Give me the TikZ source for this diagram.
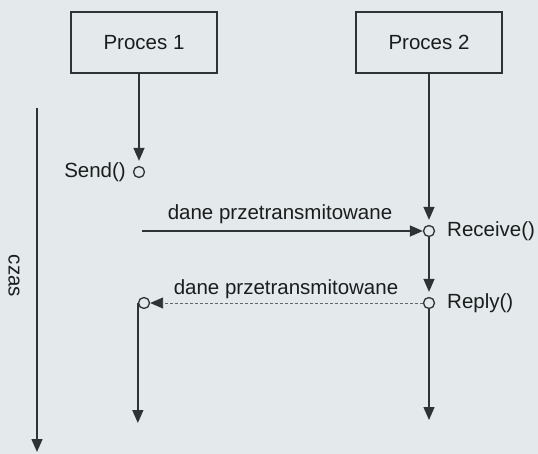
\documentclass[tikz,border=0pt]{standalone}
\usepackage{fontspec}
\setmainfont{Liberation Sans}
\usetikzlibrary{arrows.meta}
\definecolor{paper}{HTML}{E4EAEC}
\definecolor{ink}{HTML}{2E3336}
\definecolor{txt}{HTML}{1C1C1C}
\begin{document}
\begin{tikzpicture}[x=1pt,y=-1pt,
  font=\fontsize{20.5}{24}\selectfont,
  every node/.style={text=txt},
  procbox/.style={draw=ink, line width=1.6pt, minimum width=146pt, minimum height=61pt, inner sep=0pt},
  evt/.style={circle, draw=ink, line width=1.3pt, minimum size=11pt, inner sep=0pt, fill=paper},
  lbl/.style={inner sep=0pt},
  life/.style={draw=ink, line width=1.4pt},
  vtip/.style={-{Triangle[width=11pt,length=13pt,color=ink]}},
  htip/.style={-{Triangle[width=11pt,length=13pt,color=ink]}},
  msgdash/.style={draw=ink!75, line width=0.9pt, dash pattern=on 3pt off 2pt}
]
\fill[paper] (0,0) rectangle (538,454);
\useasboundingbox (0,0) rectangle (538,454);

\node[procbox] (p1) at (144,42.5) {Proces 1};
\node[procbox] (p2) at (429,42.5) {Proces 2};

\node[evt] (send) at (139,172) {};
\node[evt] (rcv) at (429,231) {};
\node[evt] (rep) at (429,303) {};
\node[evt] (ret) at (144,303) {};

\coordinate (l1top) at (p1.south -| send);
\coordinate (m1s) at (142,231);
\coordinate (l1end) at (138,423);
\coordinate (l2end) at (429,420);
\coordinate (ttop) at (37,108);
\coordinate (tend) at (37,452);

\draw[life, vtip] (l1top) -- ([yshift=5pt]send.north);
\draw[life, vtip] (p2.south) -- ([yshift=5pt]rcv.north);
\draw[life, htip] (m1s) -- (rcv.west);
\draw[life, vtip] (rcv.south) -- ([yshift=5pt]rep.north);
\draw[msgdash, htip] (rep.west) -- (ret.east);
\draw[life, vtip] (ret.west) -- (ret.west |- l1end);
\draw[life, vtip] (rep.south) -- (l2end);
\draw[life, vtip] (ttop) -- (tend);

\node[lbl, anchor=east] (sendl) at (126,172) {Send()};
\node[lbl] (m1l) at (280,214) {dane przetransmitowane};
\node[lbl, anchor=west] (rcvl) at (447,231) {Receive()};
\node[lbl] (m2l) at (286,289) {dane przetransmitowane};
\node[lbl, anchor=west] (repl) at (447,303) {Reply()};
\node[lbl, rotate=-90] (czas) at (14,276) {czas};
\end{tikzpicture}
\end{document}
